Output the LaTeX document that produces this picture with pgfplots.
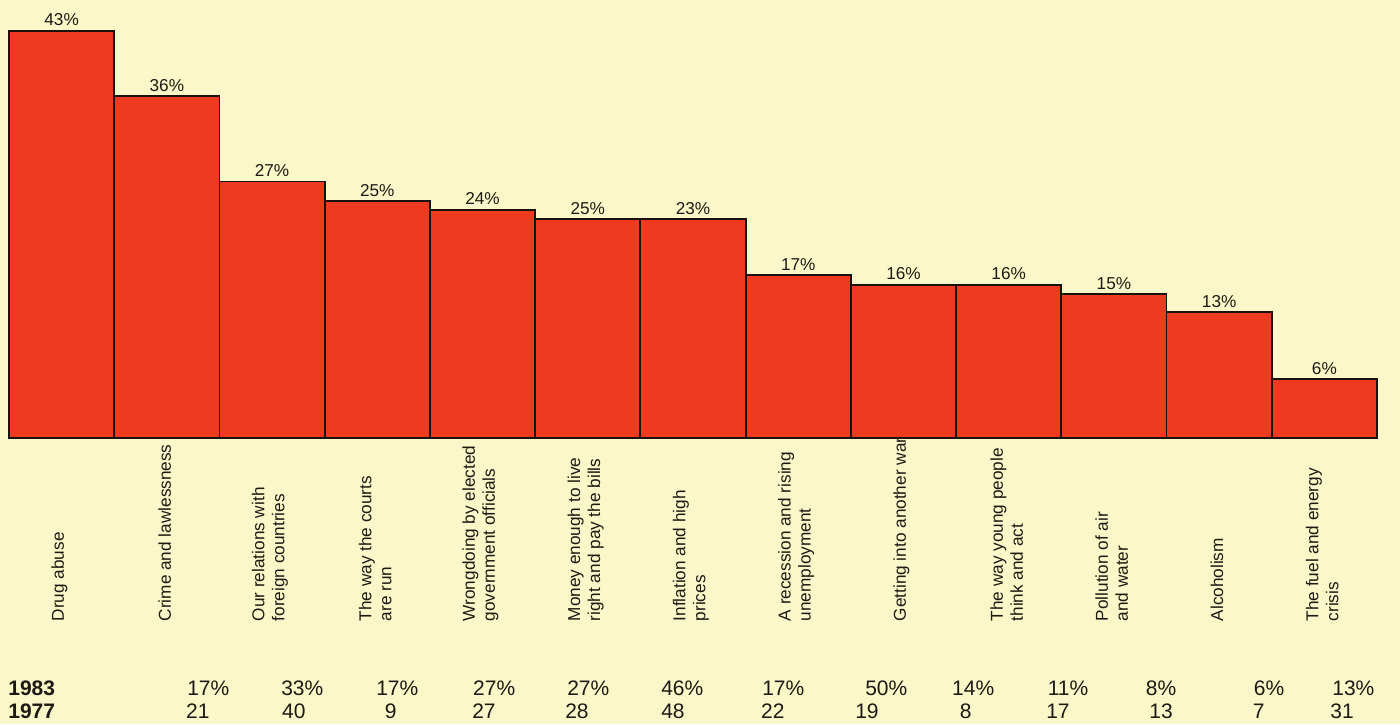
\documentclass[border=0pt]{standalone}
\usepackage{pgfplots}
\pgfplotsset{compat=1.18}
\usepackage{pgfplotstable}
\usepackage{fontspec}
\setmainfont{Liberation Sans}
\definecolor{bg}{RGB}{250,248,200}
\definecolor{barred}{RGB}{238,58,30}
\definecolor{ink}{RGB}{30,25,20}
\definecolor{edge}{RGB}{25,18,12}

% bar heights as drawn, and the labels printed above them
\pgfplotstableread{
x y lab
0 43 43
1 36.1 36
2 27.1 27
3 25 25
4 24.1 24
5 23.1 25
6 23.1 23
7 17.2 17
8 16.2 16
9 16.2 16
10 15.2 15
11 13.3 13
12 6.2 6
}\bars

% 1983 row (percent)
\pgfplotstableread{
x y lab
1.420 -26.41 17
2.313 -26.41 33
3.216 -26.41 17
4.137 -26.41 27
5.031 -26.41 27
5.924 -26.41 46
6.884 -26.41 17
7.863 -26.41 50
8.689 -26.41 14
9.583 -26.41 11
10.419 -26.41 8
11.445 -26.41 6
12.301 -26.41 13
}\rowA

% 1977 row
\pgfplotstableread{
x y lab
1.410 -28.84 21
2.322 -28.84 40
3.187 -28.84 9
4.128 -28.84 27
5.012 -28.84 28
5.924 -28.84 48
6.874 -28.84 22
7.768 -28.84 19
8.651 -28.84 8
9.583 -28.84 17
10.562 -28.84 13
11.436 -28.84 7
12.283 -28.84 31
}\rowB

\begin{document}
\begin{tikzpicture}
\fill[bg] (0,0) rectangle (700pt,362pt);
\useasboundingbox (0,0) rectangle (700pt,362pt);
\begin{axis}[
  at={(4.5pt,143pt)}, anchor=south west,
  scale only axis,
  width=684pt, height=212.96pt,
  xmin=-0.5, xmax=12.5, ymin=0, ymax=45,
  axis lines=none,
  clip=false,
]
\addplot[ybar, bar width=1, fill=barred, draw=edge, line width=0.9pt,
  nodes near coords={\pgfplotspointmeta\%},
  point meta=explicit symbolic,
  every node near coord/.append style={font=\fontsize{8.6}{10}\selectfont, text=ink, inner sep=2pt}]
  table[x=x, y=y, meta=lab] {\bars};

\addplot[draw=none, mark=none,
  nodes near coords={\pgfplotspointmeta\rlap{\%}},
  point meta=explicit symbolic,
  every node near coord/.append style={anchor=east, font=\fontsize{10.5}{12}\selectfont, text=ink, inner sep=0pt}]
  table[x=x, y=y, meta=lab] {\rowA};

\addplot[draw=none, mark=none,
  nodes near coords={\pgfplotspointmeta},
  point meta=explicit symbolic,
  every node near coord/.append style={anchor=east, font=\fontsize{10.5}{12}\selectfont, text=ink, inner sep=0pt}]
  table[x=x, y=y, meta=lab] {\rowB};

\node[anchor=west, inner sep=0pt, font=\fontsize{10.5}{12}\selectfont\bfseries, text=ink] at (axis cs:-0.51,-26.41) {1983};
\node[anchor=west, inner sep=0pt, font=\fontsize{10.5}{12}\selectfont\bfseries, text=ink] at (axis cs:-0.51,-28.84) {1977};

\tikzset{cat/.style={rotate=90, anchor=west, align=left, inner sep=0pt, text=ink, font=\fontsize{8.6}{10}\selectfont}}
\node[cat] at (axis cs:-0.02,-19.4) {Drug abuse};
\node[cat] at (axis cs:0.98,-19.4) {Crime and lawlessness};
\node[cat] at (axis cs:1.98,-19.4) {Our relations with\\foreign countries};
\node[cat] at (axis cs:2.98,-19.4) {The way the courts\\are run};
\node[cat] at (axis cs:3.98,-19.4) {Wrongdoing by elected\\government officials};
\node[cat] at (axis cs:4.98,-19.4) {Money enough to live\\right and pay the bills};
\node[cat] at (axis cs:5.98,-19.4) {Inflation and high\\prices};
\node[cat] at (axis cs:6.98,-19.4) {A recession and rising\\unemployment};
\node[cat] at (axis cs:7.98,-19.4) {Getting into another war};
\node[cat] at (axis cs:8.98,-19.4) {The way young people\\think and act};
\node[cat] at (axis cs:9.98,-19.4) {Pollution of air\\and water};
\node[cat] at (axis cs:10.98,-19.4) {Alcoholism};
\node[cat] at (axis cs:11.98,-19.4) {The fuel and energy\\crisis};
\end{axis}
\end{tikzpicture}
\end{document}
